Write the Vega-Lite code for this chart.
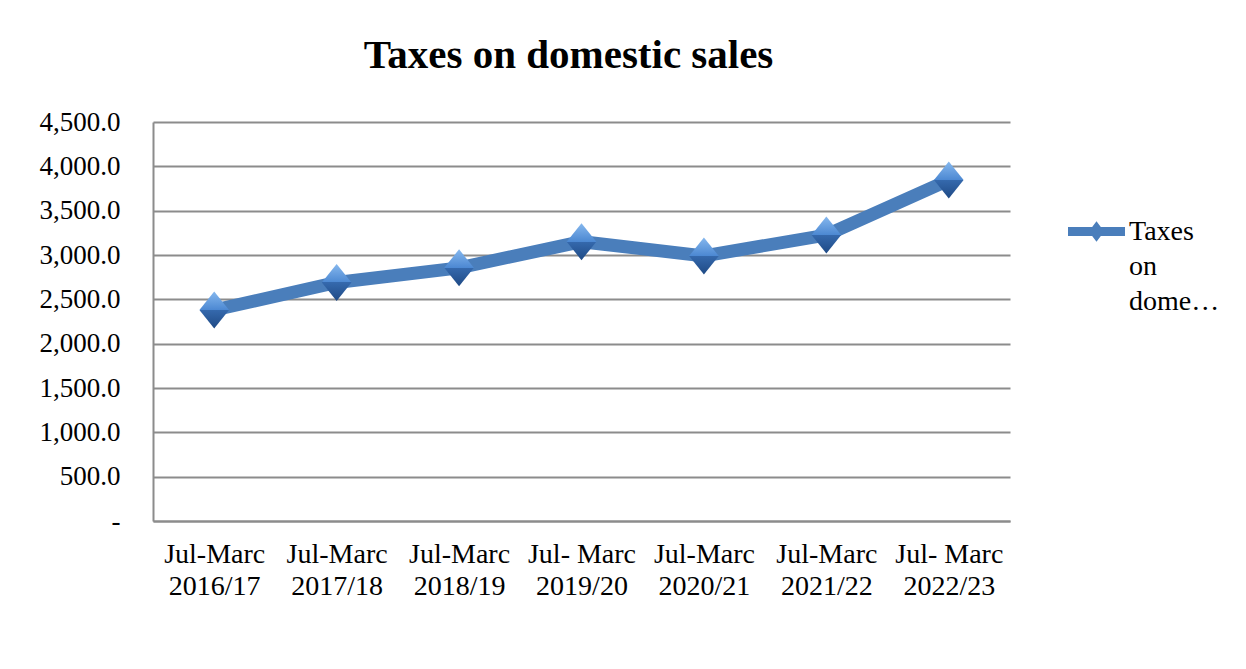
{
  "$schema": "https://vega.github.io/schema/vega-lite/v6.json",
  "width": 857,
  "height": 399,
  "autosize": {"type": "none"},
  "padding": {"left": 153, "top": 122, "right": 236, "bottom": 148},
  "background": "white",
  "title": {
    "text": "Taxes on domestic sales",
    "font": "Liberation Serif",
    "fontSize": 41,
    "fontWeight": "bold",
    "color": "#000000",
    "anchor": "middle",
    "baseline": "alphabetic",
    "offset": -1,
    "dx": -13
  },
  "data": {
    "values": [
      {"period": "Jul-Marc 2016/17", "series": "Taxes on domestic sales", "value": 2380},
      {"period": "Jul-Marc 2017/18", "series": "Taxes on domestic sales", "value": 2690},
      {"period": "Jul-Marc 2018/19", "series": "Taxes on domestic sales", "value": 2855},
      {"period": "Jul- Marc 2019/20", "series": "Taxes on domestic sales", "value": 3150},
      {"period": "Jul-Marc 2020/21", "series": "Taxes on domestic sales", "value": 2990},
      {"period": "Jul-Marc 2021/22", "series": "Taxes on domestic sales", "value": 3225},
      {"period": "Jul- Marc 2022/23", "series": "Taxes on domestic sales", "value": 3845}
    ]
  },
  "encoding": {
    "x": {
      "field": "period",
      "type": "ordinal",
      "sort": null,
      "scale": {"paddingInner": 0, "paddingOuter": 0.5},
      "axis": {
        "title": null,
        "labelAngle": 0,
        "labelFont": "Liberation Serif",
        "labelFontSize": 28,
        "labelColor": "#000000",
        "labelLineHeight": 32,
        "labelBaseline": "top",
        "labelPadding": 19,
        "labelExpr": "[slice(datum.label, 0, lastindexof(datum.label, ' ')), slice(datum.label, lastindexof(datum.label, ' ') + 1)]",
        "ticks": false,
        "domainColor": "#8c8c8c",
        "domainWidth": 2,
        "grid": false
      }
    },
    "y": {
      "field": "value",
      "type": "quantitative",
      "scale": {"domain": [0, 4500]},
      "axis": {
        "title": null,
        "values": [0, 500, 1000, 1500, 2000, 2500, 3000, 3500, 4000, 4500],
        "labelExpr": "datum.value == 0 ? '-\u2002\u2002' : format(datum.value, ',.1f')",
        "labelFont": "Liberation Serif",
        "labelFontSize": 27,
        "labelColor": "#000000",
        "labelPadding": 33,
        "ticks": false,
        "domainColor": "#8c8c8c",
        "domainWidth": 2,
        "grid": true,
        "gridColor": "#8c8c8c",
        "gridWidth": 2
      }
    }
  },
  "layer": [
    {
      "mark": {"type": "line", "strokeWidth": 13, "strokeCap": "butt", "strokeJoin": "miter"},
      "encoding": {
        "color": {
          "field": "series",
          "type": "nominal",
          "scale": {"range": ["#4a7ebb"]},
          "legend": {
            "title": null,
            "orient": "none",
            "legendX": 915,
            "legendY": 67,
            "symbolType": "M-1,0.33L1,0.33L1,0.65L-1,0.65Z M0,0.13L0.27,0.49L0,0.85L-0.27,0.49Z",
            "symbolSize": 3249,
            "symbolFillColor": "#4a7ebb",
            "symbolStrokeWidth": 0,
            "labelFont": "Liberation Serif",
            "labelFontSize": 28,
            "labelColor": "#000000",
            "labelLineHeight": 35,
            "labelBaseline": "top",
            "labelOffset": 4,
            "labelLimit": 0,
            "labelExpr": "split(slice(datum.label, 0, 13) + '…', ' ')"
          }
        }
      }
    },
    {
      "mark": {
        "type": "point",
        "shape": "M0,-1L0.8,0L0,1L-0.8,0Z",
        "size": 1369,
        "filled": true,
        "opacity": 1,
        "strokeWidth": 0,
        "fill": {
          "gradient": "linear",
          "x1": 0, "y1": 0, "x2": 0, "y2": 1,
          "stops": [
            {"offset": 0, "color": "#86b8ee"},
            {"offset": 0.5, "color": "#4c88d2"},
            {"offset": 0.5, "color": "#3569ad"},
            {"offset": 1, "color": "#1f4a85"}
          ]
        }
      }
    }
  ],
  "config": {
    "view": {"stroke": null},
    "style": {"guide-label": {"lineHeight": 35}}
  }
}
